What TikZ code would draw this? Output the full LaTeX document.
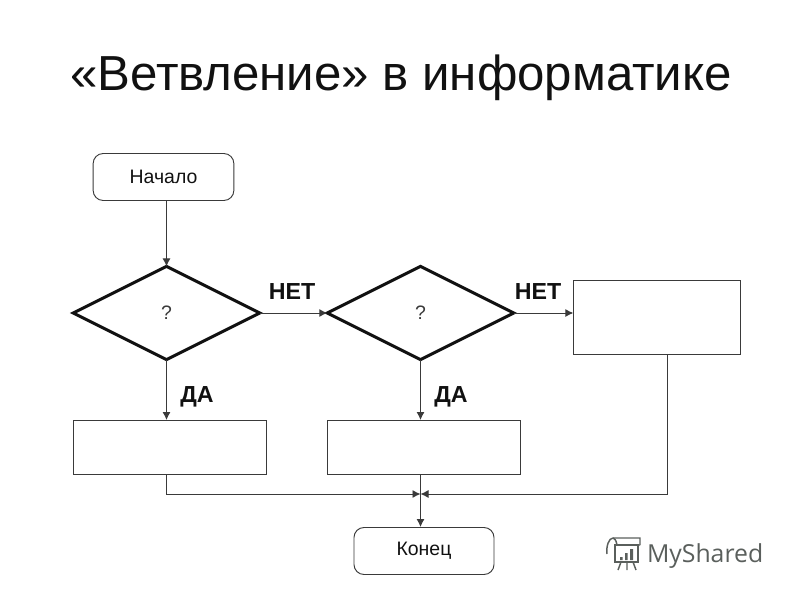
\documentclass[tikz,border=0pt]{standalone}
\usepackage{fontspec}
\setmainfont{Liberation Sans}
\newfontfamily\logofont{Open Sans}
\usetikzlibrary{shapes.geometric,arrows.meta,calc}
\definecolor{edgegray}{HTML}{3A3A3A}
\definecolor{inkblack}{HTML}{111111}
\definecolor{logogray}{HTML}{5A5F5C}
\tikzset{
  x=0.75pt,y=-0.75pt,
  every node/.style={inner sep=0pt,outer sep=0pt,text=inkblack},
  startend/.style={draw=edgegray,line width=0.7pt,rounded corners=7.5pt,font=\fontsize{14.6}{17}\selectfont},
  procbox/.style={draw=edgegray,line width=0.75pt},
  decision/.style={diamond,draw=inkblack,line width=2.3pt,shape aspect=2,minimum width=139.8pt,minimum height=69.9pt,font=\fontsize{14.6}{17}\selectfont,text=edgegray},
  flow/.style={draw=edgegray,line width=0.7pt,-{Latex[length=6pt,width=6pt]}},
  plainflow/.style={draw=edgegray,line width=0.7pt},
  branch/.style={font=\bfseries\fontsize{17.4}{21}\selectfont},
  logoline/.style={draw=logogray,line width=1.1pt}
}
\begin{document}
\begin{tikzpicture}
\useasboundingbox (0,0) rectangle (800,600);
\node[font=\fontsize{36.9}{44}\selectfont,anchor=center] (title) at (401,77.5) {«Ветвление» в информатике};
\node[startend,minimum width=105.5pt,minimum height=35.25pt,text depth=0pt] (start) at (163.5,177) {Начало};
\node[decision] (d1) at (166.5,313) {?};
\node[decision] (d2) at (420.5,313) {?};
\node[procbox,minimum width=125.5pt,minimum height=55.5pt] (r) at (657,317) {};
\node[procbox,minimum width=145pt,minimum height=40.5pt] (b1) at (170,447) {};
\node[procbox,minimum width=145pt,minimum height=40.5pt] (b2) at (424,447) {};
\node[startend,minimum width=105pt,minimum height=35.25pt] (end) at (424,551) {Конец};
\node[branch] (n1) at (292,291.5) {НЕТ};
\node[branch] (n2) at (538,291.5) {НЕТ};
\node[branch] (y1) at (197,397) {ДА};
\node[branch] (y2) at (451,397) {ДА};
\coordinate (s1) at (166.5,200);
\coordinate (t1) at (166.5,420);
\coordinate (t2) at (420.5,420);
\coordinate (e1) at (420.5,474);
\coordinate (e2) at (420.5,527);
\coordinate (b1s) at (166.5,474);
\coordinate (rs) at (667,354);
\coordinate (mergeL) at (420.5,494);
\coordinate (mergeR) at (420.5,494);
\draw[flow] (s1) -- (d1.north);
\draw[flow] (d1.south) -- (t1);
\draw[flow] (d1.east) -- (d2.west);
\draw[flow] (d2.south) -- (t2);
\draw[flow] (d2.east) -- (d2.east -| r.west);
\draw[flow] (e1) -- (e2);
\draw[flow] (b1s) |- (mergeL);
\draw[flow] (rs) |- (mergeR);
% MyShared logo
\node[font=\logofont\fontsize{18.6}{22}\selectfont,text=logogray,anchor=west] (logo) at (647,556) {MyShared};
\draw[logoline] (607,554) .. controls (606,546) and (609,538) .. (613,538) -- (640,538) -- (640,545);
\draw[logoline] (613,538) .. controls (617,540) and (616,543) .. (617,545) -- (640,545);
\draw[logoline] (615,545) rectangle (638,562);
\fill[logogray] (620,557) rectangle (622.5,560) (625,553) rectangle (627.5,560) (630,549) rectangle (633,560);
\draw[logoline] (621,562) -- (618,570) (627,562) -- (627,570) (633,562) -- (636,570);
\end{tikzpicture}
\end{document}
